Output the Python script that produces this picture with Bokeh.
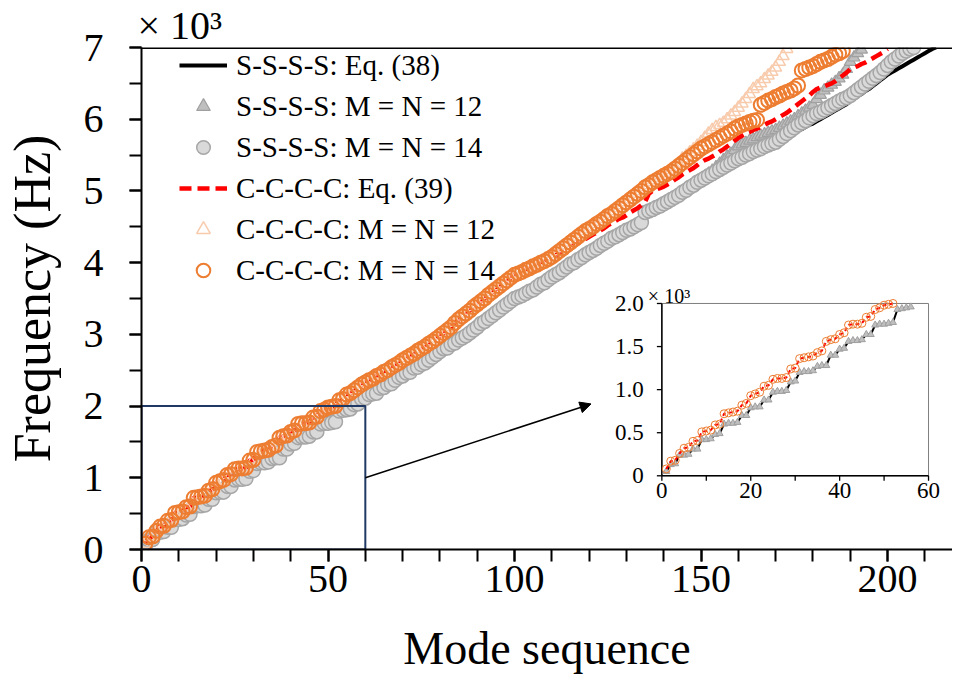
from bokeh.plotting import figure
from bokeh.models import (Range1d, Legend, LegendItem, Arrow, NormalHead,
                          Span, SingleIntervalTicker)
from bokeh.core.properties import value
from bokeh.embed import file_html
from bokeh.resources import INLINE

# ---------------- data: natural frequencies in units of 10^3 Hz ----------------
# S-S-S-S, modes 1-150 (Eq. (38) and both M = N solutions coincide here)
ssss_common = [
    0.05, 0.13, 0.14, 0.24, 0.24, 0.25, 0.31, 0.31, 0.42, 0.42,
    0.43, 0.48, 0.49, 0.60, 0.61, 0.61, 0.62, 0.70, 0.70, 0.79,
    0.80, 0.80, 0.88, 0.88, 0.97, 0.98, 0.98, 0.99, 1.09, 1.10,
    1.20, 1.21, 1.21, 1.22, 1.27, 1.28, 1.28, 1.40, 1.40, 1.47,
    1.48, 1.56, 1.57, 1.57, 1.58, 1.64, 1.64, 1.75, 1.76, 1.76,
    1.77, 1.78, 1.93, 1.94, 1.95, 1.96, 2.02, 2.03, 2.10, 2.11,
    2.16, 2.17, 2.18, 2.25, 2.26, 2.30, 2.31, 2.36, 2.40, 2.42,
    2.46, 2.47, 2.53, 2.54, 2.58, 2.60, 2.64, 2.68, 2.72, 2.76,
    2.80, 2.81, 2.86, 2.88, 2.92, 2.95, 2.98, 3.02, 3.06, 3.10,
    3.15, 3.18, 3.22, 3.26, 3.30, 3.34, 3.38, 3.42, 3.46, 3.50,
    3.52, 3.54, 3.57, 3.60, 3.62, 3.66, 3.70, 3.72, 3.76, 3.80,
    3.83, 3.86, 3.90, 3.94, 3.98, 4.00, 4.04, 4.07, 4.11, 4.14,
    4.17, 4.20, 4.24, 4.27, 4.30, 4.34, 4.36, 4.39, 4.42, 4.45,
    4.47, 4.50, 4.53, 4.56, 4.70, 4.72, 4.74, 4.77, 4.79, 4.82,
    4.85, 4.88, 4.91, 4.94, 4.98, 5.01, 5.05, 5.08, 5.12, 5.15,
]
# S-S-S-S Eq. (38), modes 151-213
ssss_eq38_tail = [
    5.18, 5.21, 5.24, 5.27, 5.30, 5.33, 5.36, 5.39, 5.42, 5.45,
    5.47, 5.50, 5.52, 5.55, 5.57, 5.59, 5.62, 5.64, 5.66, 5.68,
    5.70, 5.73, 5.76, 5.78, 5.81, 5.84, 5.86, 5.89, 5.92, 5.94,
    5.97, 6.00, 6.03, 6.06, 6.09, 6.12, 6.15, 6.18, 6.21, 6.25,
    6.28, 6.32, 6.35, 6.39, 6.42, 6.46, 6.50, 6.54, 6.58, 6.62,
    6.65, 6.68, 6.71, 6.74, 6.77, 6.80, 6.83, 6.86, 6.89, 6.92,
    6.95, 6.98, 7.00,
]
# S-S-S-S M = N = 12, modes 151-193
ssss_m12_tail = [
    5.20, 5.24, 5.28, 5.33, 5.38, 5.43, 5.48, 5.52, 5.57, 5.62,
    5.65, 5.67, 5.70, 5.72, 5.75, 5.77, 5.79, 5.81, 5.83, 5.85,
    5.88, 5.91, 5.94, 5.97, 6.00, 6.04, 6.08, 6.12, 6.16, 6.20,
    6.28, 6.34, 6.40, 6.44, 6.48, 6.52, 6.57, 6.62, 6.70, 6.80,
    6.86, 6.92, 6.97,
]
# S-S-S-S M = N = 14, modes 151-207
ssss_m14_tail = [
    5.18, 5.21, 5.24, 5.27, 5.30, 5.33, 5.36, 5.39, 5.42, 5.45,
    5.47, 5.50, 5.52, 5.55, 5.57, 5.59, 5.62, 5.64, 5.66, 5.68,
    5.72, 5.76, 5.80, 5.84, 5.88, 5.92, 5.95, 5.98, 6.02, 6.05,
    6.08, 6.10, 6.13, 6.16, 6.19, 6.22, 6.25, 6.28, 6.30, 6.33,
    6.37, 6.41, 6.45, 6.49, 6.53, 6.57, 6.61, 6.65, 6.70, 6.75,
    6.80, 6.84, 6.88, 6.92, 6.95, 6.98, 7.00,
]
# C-C-C-C, modes 1-110 (all three coincide here)
cccc_common = [
    0.08, 0.17, 0.18, 0.26, 0.32, 0.33, 0.40, 0.41, 0.51, 0.52,
    0.53, 0.59, 0.60, 0.72, 0.73, 0.74, 0.75, 0.82, 0.84, 0.93,
    0.95, 0.97, 1.04, 1.05, 1.12, 1.13, 1.13, 1.14, 1.24, 1.25,
    1.36, 1.37, 1.38, 1.39, 1.43, 1.45, 1.56, 1.58, 1.59, 1.64,
    1.66, 1.75, 1.76, 1.76, 1.77, 1.84, 1.85, 1.93, 1.95, 1.98,
    1.99, 2.00, 2.08, 2.10, 2.16, 2.18, 2.22, 2.26, 2.30, 2.33,
    2.36, 2.38, 2.42, 2.44, 2.48, 2.50, 2.54, 2.57, 2.60, 2.64,
    2.67, 2.70, 2.73, 2.77, 2.80, 2.83, 2.87, 2.90, 2.94, 2.98,
    3.02, 3.06, 3.10, 3.16, 3.21, 3.25, 3.29, 3.33, 3.38, 3.42,
    3.46, 3.50, 3.55, 3.59, 3.63, 3.67, 3.71, 3.75, 3.79, 3.83,
    3.85, 3.87, 3.90, 3.92, 3.95, 3.97, 4.00, 4.02, 4.05, 4.08,
]
# C-C-C-C Eq. (39), modes 111-200
cccc_eq39_tail = [
    4.10, 4.13, 4.16, 4.19, 4.21, 4.24, 4.27, 4.29, 4.33, 4.36,
    4.39, 4.42, 4.45, 4.48, 4.52, 4.55, 4.58, 4.61, 4.63, 4.66,
    4.70, 4.73, 4.76, 4.80, 4.85, 4.96, 5.00, 5.02, 5.04, 5.06,
    5.09, 5.12, 5.16, 5.19, 5.23, 5.26, 5.29, 5.32, 5.36, 5.40,
    5.43, 5.45, 5.48, 5.51, 5.55, 5.58, 5.62, 5.66, 5.70, 5.74,
    5.77, 5.80, 5.82, 5.85, 5.87, 5.89, 5.92, 5.95, 5.97, 6.00,
    6.03, 6.06, 6.09, 6.13, 6.17, 6.21, 6.25, 6.29, 6.33, 6.38,
    6.42, 6.44, 6.46, 6.48, 6.50, 6.53, 6.57, 6.61, 6.65, 6.70,
    6.72, 6.74, 6.77, 6.79, 6.82, 6.85, 6.88, 6.91, 6.94, 6.98,
]
# C-C-C-C M = N = 12, modes 111-173
cccc_m12_tail = [
    4.12, 4.16, 4.20, 4.24, 4.28, 4.32, 4.36, 4.40, 4.44, 4.47,
    4.50, 4.54, 4.57, 4.61, 4.65, 4.68, 4.72, 4.76, 4.80, 4.84,
    4.88, 4.92, 4.96, 5.00, 5.05, 5.08, 5.12, 5.15, 5.18, 5.21,
    5.25, 5.29, 5.33, 5.38, 5.45, 5.49, 5.54, 5.58, 5.63, 5.68,
    5.74, 5.80, 5.85, 5.89, 5.92, 5.95, 6.00, 6.05, 6.10, 6.16,
    6.22, 6.28, 6.35, 6.42, 6.46, 6.50, 6.56, 6.61, 6.66, 6.72,
    6.80, 6.88, 6.98,
]
# C-C-C-C M = N = 14, modes 111-188
cccc_m14_tail = [
    4.12, 4.16, 4.20, 4.24, 4.28, 4.32, 4.36, 4.40, 4.44, 4.47,
    4.50, 4.54, 4.57, 4.61, 4.65, 4.68, 4.72, 4.76, 4.80, 4.84,
    4.88, 4.92, 4.96, 5.00, 5.05, 5.08, 5.12, 5.15, 5.18, 5.21,
    5.24, 5.27, 5.31, 5.35, 5.39, 5.43, 5.47, 5.51, 5.55, 5.59,
    5.62, 5.65, 5.68, 5.71, 5.74, 5.77, 5.80, 5.83, 5.87, 5.90,
    5.92, 5.94, 5.96, 5.98, 5.99, 6.20, 6.23, 6.26, 6.28, 6.31,
    6.33, 6.36, 6.38, 6.40, 6.43, 6.47, 6.68, 6.70, 6.72, 6.74,
    6.77, 6.80, 6.82, 6.84, 6.87, 6.90, 6.92, 6.95,
]

legend_labels = [
    "S-S-S-S: Eq. (38)",
    "S-S-S-S: M = N = 12",
    "S-S-S-S: M = N = 14",
    "C-C-C-C: Eq. (39)",
    "C-C-C-C: M = N = 12",
    "C-C-C-C: M = N = 14",
]
main_x_range = (0, 217.4)
main_y_range = (0, 7)
inset_x_range = (0, 60)
inset_y_range = (0, 2.0)
inset_xticks = [0, 20, 40, 60]
inset_xminor = [10, 30, 50]
inset_yticks = [0, 0.5, 1.0, 1.5, 2.0]
inset_ytick_labels = ["0", "0.5", "1.0", "1.5", "2.0"]

# ---------------- series ----------------
ss38 = ssss_common + ssss_eq38_tail
ss12 = ssss_common + ssss_m12_tail
ss14 = ssss_common + ssss_m14_tail
cc39 = cccc_common + cccc_eq39_tail
cc12 = cccc_common + cccc_m12_tail
cc14 = cccc_common + cccc_m14_tail


def modes(vals):
    return list(range(1, len(vals) + 1))


FONT = "Liberation Serif"
W, H = 952, 678
BL, BR, BT, BB = 140, 0, 45, 129
FW, FH = W - BL - BR, H - BT - BB

p = figure(width=W, height=H, output_backend="svg", toolbar_location=None,
           x_range=Range1d(*main_x_range), y_range=Range1d(*main_y_range),
           min_border_left=BL, min_border_right=BR, min_border_top=BT,
           min_border_bottom=BB)
p.outline_line_color = None
p.grid.visible = False

# x10^3 multiplier as a left-aligned title
p.title.text = "× 10³"
p.title.text_font = FONT
p.title.text_font_size = "40px"
p.title.text_font_style = "normal"
p.title.text_color = "black"
p.title.align = "left"
p.title.offset = -4
p.title.standoff = 0

p.xaxis.ticker = SingleIntervalTicker(interval=50, num_minor_ticks=5)
p.yaxis.ticker = SingleIntervalTicker(interval=1, num_minor_ticks=2)
for ax in (p.xaxis, p.yaxis):
    ax.axis_line_width = 2
    ax.axis_line_color = "black"
    ax.major_tick_line_width = 2
    ax.minor_tick_line_width = 2
    ax.major_tick_line_color = "black"
    ax.minor_tick_line_color = "black"
    ax.major_tick_in = 0
    ax.minor_tick_in = 0
    ax.major_tick_out = 12
    ax.minor_tick_out = 12
    ax.major_label_text_font = FONT
    ax.major_label_text_font_size = "40px"
    ax.major_label_text_color = "black"
    ax.axis_label_text_font = FONT
    ax.axis_label_text_font_style = "normal"
    ax.axis_label_text_color = "black"
p.xaxis.axis_label = "Mode sequence"
p.yaxis.axis_label = "Frequency (Hz)"
p.xaxis.axis_label_text_font_size = "46px"
p.yaxis.axis_label_text_font_size = "52px"
p.xaxis.major_label_standoff = 4
p.xaxis.axis_label_standoff = 28
p.yaxis.major_label_standoff = 26
p.yaxis.axis_label_standoff = 20

# top frame line
p.add_layout(Span(location=main_y_range[1], dimension="width",
                  line_color="black", line_width=3))

# ---------------- main series ----------------
r1 = p.line(modes(ss38), ss38, line_color="black", line_width=4)
r2 = p.scatter(modes(ss12), ss12, marker="triangle", size=12,
               fill_color="#BFBFBF", line_color="#A0A0A0", line_width=1.2)
r3 = p.scatter(modes(ss14), ss14, marker="circle", size=14,
               fill_color="#D9D9D9", line_color="#A6A6A6", line_width=1.5)
r4 = p.line(modes(cc39), cc39, line_color="#FF0000", line_width=4.5,
            line_dash="12 6")
r5 = p.scatter(modes(cc12), cc12, marker="triangle", size=12,
               fill_color=None, line_color="#F8CBAD", line_width=1.5)
r6 = p.scatter(modes(cc14), cc14, marker="circle", size=14,
               fill_color=None, line_color="#ED7D31", line_width=2)

# zoom box
p.quad(left=[inset_x_range[0]], right=[inset_x_range[1]],
       bottom=[inset_y_range[0]], top=[inset_y_range[1]],
       fill_color=None, line_color="#1F3864", line_width=2)

# ---------------- inset (drawn with extra ranges) ----------------
IL, IR, IB, IT = 521, 788, 74, 247  # inset box inside the frame, px
ux = (inset_x_range[1] - inset_x_range[0]) / (IR - IL)
uy = (inset_y_range[1] - inset_y_range[0]) / (IT - IB)
p.extra_x_ranges = {"ix": Range1d(inset_x_range[0] - IL * ux,
                                  inset_x_range[1] + (FW - IR) * ux)}
p.extra_y_ranges = {"iy": Range1d(inset_y_range[0] - IB * uy,
                                  inset_y_range[1] + (FH - IT) * uy)}
ir = dict(x_range_name="ix", y_range_name="iy")

p.quad(left=[inset_x_range[0]], right=[inset_x_range[1]],
       bottom=[inset_y_range[0]], top=[inset_y_range[1]],
       fill_color="white", line_color="#7F7F7F", line_width=1, **ir)
tick = 5
allx = sorted(inset_xticks + inset_xminor)
p.segment(x0=allx, x1=allx, y0=[0] * len(allx), y1=[-tick * uy] * len(allx),
          line_color="black", line_width=1.3, **ir)
p.segment(x0=[0] * len(inset_yticks), x1=[-tick * ux] * len(inset_yticks),
          y0=inset_yticks, y1=inset_yticks, line_color="black", line_width=1.3, **ir)
p.segment(x0=[0, 0], x1=[inset_x_range[1], 0], y0=[0, 0],
          y1=[0, inset_y_range[1]], line_color="black", line_width=1.5, **ir)
p.text(x=inset_xticks, y=[0] * len(inset_xticks),
       text=[str(t) for t in inset_xticks], text_font=value(FONT),
       text_font_size="23px", text_align="center", text_baseline="top",
       y_offset=7, text_color="black", **ir)
p.text(x=[0] * len(inset_yticks), y=inset_yticks, text=inset_ytick_labels,
       text_font=value(FONT), text_font_size="23px", text_align="right",
       text_baseline="middle", x_offset=-18, text_color="black", **ir)
p.text(x=[0], y=[inset_y_range[1]], text=["× 10³"], text_font=value(FONT),
       text_font_size="20px", text_align="left", text_baseline="alphabetic",
       x_offset=-14, y_offset=-7, text_color="black", **ir)


def clip(vals):
    xs, ys = [], []
    for m, v in zip(modes(vals), vals):
        if m <= inset_x_range[1] and v <= inset_y_range[1]:
            xs.append(m)
            ys.append(v)
    return xs, ys


x, y = clip(ss38)
p.line(x, y, line_color="black", line_width=2, **ir)
x, y = clip(ss12)
p.scatter(x, y, marker="triangle", size=7, fill_color="#BFBFBF",
          line_color="#A0A0A0", line_width=1, **ir)
x, y = clip(cc39)
p.line(x, y, line_color="#FF0000", line_width=2, line_dash="4 3", **ir)
x, y = clip(cc14)
p.scatter(x, y, marker="circle", size=8, fill_color=None,
          line_color="#ED7D31", line_width=1, **ir)

# arrow from zoom box to inset
p.add_layout(Arrow(end=NormalHead(size=11, fill_color="black", line_color="black"),
                   x_start=inset_x_range[1], y_start=1.0, x_end=120.5, y_end=2.03,
                   line_color="black", line_width=1.5))

legend = Legend(items=[LegendItem(label=l, renderers=[r])
                       for l, r in zip(legend_labels, [r1, r2, r3, r4, r5, r6])],
                location=(38, FH - 251 + 9))
legend.glyph_width = 48
legend.glyph_height = 34
legend.label_height = 34
legend.spacing = 7
legend.padding = 6
legend.margin = 0
legend.label_standoff = 9
legend.label_text_font = FONT
legend.label_text_font_size = "29px"
legend.label_text_color = "black"
legend.border_line_color = None
legend.background_fill_alpha = 0
p.add_layout(legend)

open("out.html", "w").write(file_html(p, INLINE))
